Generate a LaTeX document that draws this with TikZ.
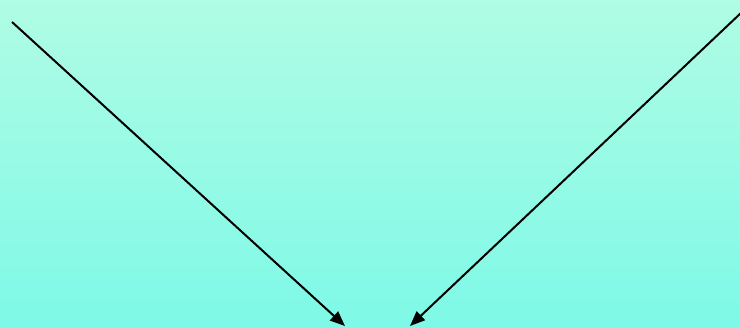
\documentclass[tikz,border=0pt]{standalone}
\usetikzlibrary{arrows.meta}
\definecolor{topc}{HTML}{B0FCE4}
\definecolor{botc}{HTML}{7EF9E7}
\tikzset{conn/.style={line width=2pt,-{Triangle[length=15pt,width=12pt]}}}
\begin{document}
\begin{tikzpicture}[x=1pt,y=-1pt]
\shade[top color=topc,bottom color=botc] (0,0) rectangle (740,328);
\useasboundingbox (0,0) rectangle (740,328);
\coordinate (a1) at (12,22);
\coordinate (a2) at (345,326);
\coordinate (b1) at (742,12);
\coordinate (b2) at (410,326);
\draw[conn] (a1) -- (a2);
\draw[conn] (b1) -- (b2);
\end{tikzpicture}
\end{document}
